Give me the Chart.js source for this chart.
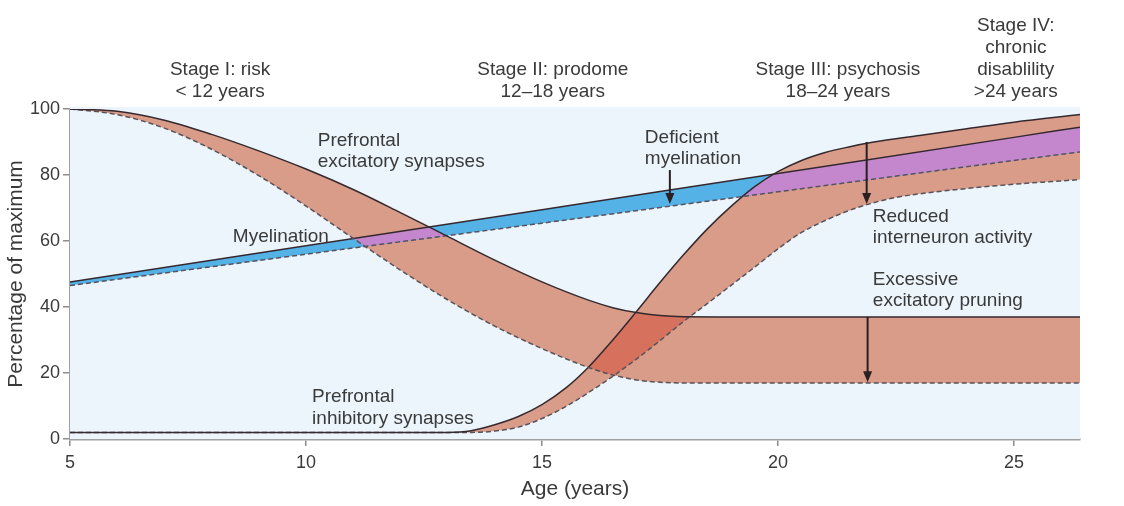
<!DOCTYPE html>
<html>
<head>
<meta charset="utf-8">
<script src="https://cdn.jsdelivr.net/npm/chart.js@4.4.1/dist/chart.umd.min.js"></script>
<style>
    body { margin: 0; background: #ffffff; }
    #wrap { width: 1124px; height: 506px; position: relative; }
</style>
</head>
<body>
<div id="wrap"><canvas id="charts"></canvas></div>
<script>
// Ages (years) and percentage of maximum
const excitAges  = [5, 6, 7, 8, 9, 10, 11, 12, 13, 14, 15, 16, 16.5, 17, 17.5, 18, 19, 22, 26.4]
const excitUpper = [100, 99.3, 96.6, 92.3, 87.3, 81.8, 75.6, 68.6, 61.4, 54.2, 47.6, 42, 39.8, 38.3, 37.4, 37.05, 37, 37, 37]
const excitLower = [100, 98.3, 94.2, 87.8, 79.8, 70.6, 60.8, 51.2, 42.2, 34.2, 27.4, 21.6, 19.4, 17.9, 17.2, 17, 17, 17, 17]

const inhibAgesUpper = [5, 10, 13, 13.5, 14, 14.5, 15, 15.5, 16, 16.5, 17, 17.5, 18, 18.5, 19, 19.5, 20, 20.5, 21, 21.5, 22, 23, 24, 25, 26.4]
const inhibUpper     = [2, 2, 2, 2.5, 4.3, 6.8, 10.4, 15.4, 22, 30, 38.6, 47.4, 55.8, 63.6, 70.4, 76.4, 81, 84.4, 86.8, 88.5, 89.9, 92, 94, 96, 98.3]
const inhibAgesLower = [5, 10, 13.5, 14, 14.5, 15, 15.5, 16, 16.5, 17, 17.5, 18, 18.5, 19, 19.5, 20, 20.5, 21, 21.5, 22, 22.5, 23, 24, 25, 26.4]
const inhibLower     = [2, 2, 2, 2.4, 3.6, 6.2, 9.8, 14.2, 19, 24.2, 29.8, 35.6, 41, 46.5, 52, 57.6, 62.6, 66.2, 69.2, 71.5, 73.2, 74.3, 75.9, 77.2, 78.6]

const myelAges  = [5, 10, 15, 20, 25, 26.4]
const myelUpper = [47.6, 58.55, 69.5, 80.45, 91.4, 94.5]
const myelLower = [46.5, 56, 65.4, 74.9, 84.4, 87]

const xTicks = [5, 10, 15, 20, 25]
const yTicks = [0, 20, 40, 60, 80, 100]

const stageLabels = [
    { age: 8.18,  lines: ['Stage I: risk', '< 12 years'] },
    { age: 15.23, lines: ['Stage II: prodome', '12\u201318 years'] },
    { age: 21.27, lines: ['Stage III: psychosis', '18\u201324 years'] },
    { age: 25.04, lines: ['Stage IV:', 'chronic', 'disablility', '>24 years'] }
]

// left aligned text, age + value of first baseline
const curveLabels = [
    { age: 10.25, value: 88.8, lines: ['Prefrontal', 'excitatory synapses'] },
    { age: 8.45,  value: 59.7, lines: ['Myelination'] },
    { age: 17.18, value: 89.7, lines: ['Deficient', 'myelination'] },
    { age: 22.01, value: 65.8, lines: ['Reduced', 'interneuron activity'] },
    { age: 22.01, value: 46.7, lines: ['Excessive', 'excitatory pruning'] },
    { age: 10.13, value: 11.2, lines: ['Prefrontal', 'inhibitory synapses'] }
]

const arrows = [
    { age: 17.71, from: 81.5, to: 71.2 },
    { age: 21.88, from: 90,   to: 71.2 },
    { age: 21.9,  from: 37,   to: 17.2 }
]

const FONT = '"Liberation Sans", Arial, Helvetica, sans-serif'
const TEXT = '#3a3a3a'

function toXY(ages, vals)
{
    return ages.map((a, i) => ({ x: a, y: vals[i] }))
}

function line(label, ages, vals, dashed)
{
    return {
        label: label,
        data: toXY(ages, vals),
        borderColor: dashed ? '#57525c' : '#35292f',
        borderWidth: 1.5,
        borderDash: dashed ? [5, 3] : [],
        pointRadius: 0,
        fill: false,
        cubicInterpolationMode: 'monotone'
    }
}

function trace(ctx, pts)
{
    ctx.moveTo(pts[0].x, pts[0].y)
    for (let i = 1; i < pts.length; i++) {
        const p = pts[i - 1], q = pts[i]
        if (p.cp2x !== undefined && q.cp1x !== undefined)
            ctx.bezierCurveTo(p.cp2x, p.cp2y, q.cp1x, q.cp1y, q.x, q.y)
        else
            ctx.lineTo(q.x, q.y)
    }
}

// clip to the region between an upper and a lower line
function clipBand(chart, ctx, up, low)
{
    const a = chart.chartArea
    const u = chart.getDatasetMeta(up).data
    const l = chart.getDatasetMeta(low).data
    ctx.beginPath()
    trace(ctx, u)
    ctx.lineTo(u[u.length - 1].x, a.bottom + 10)
    ctx.lineTo(u[0].x, a.bottom + 10)
    ctx.closePath()
    ctx.clip()
    ctx.beginPath()
    trace(ctx, l)
    ctx.lineTo(l[l.length - 1].x, a.top - 10)
    ctx.lineTo(l[0].x, a.top - 10)
    ctx.closePath()
    ctx.clip()
}

const bandPlugin = {
    id: 'bands',
    beforeDatasetsDraw(chart) {
        const ctx = chart.ctx
        const a = chart.chartArea
        for (let i = 0; i < chart.data.datasets.length; i++) {
            const meta = chart.getDatasetMeta(i)
            if (meta.dataset && meta.dataset.updateControlPoints)
                meta.dataset.updateControlPoints(a, 'x')
        }
        ctx.save()
        ctx.fillStyle = '#ebf5fb'
        ctx.fillRect(a.left, a.top - 2, a.right - a.left, a.bottom - a.top + 2)
        ctx.restore()

        const fills = [
            { bands: [[0, 1]], color: '#d99c88' },
            { bands: [[2, 3]], color: '#d99c88' },
            { bands: [[4, 5]], color: '#55b2e6' },
            { bands: [[0, 1], [2, 3]], color: '#d5715d' },
            { bands: [[4, 5], [0, 1]], color: '#c487cd' },
            { bands: [[4, 5], [2, 3]], color: '#c487cd' }
        ]
        fills.forEach(f => {
            ctx.save()
            ctx.beginPath()
            ctx.rect(a.left, a.top, a.right - a.left, a.bottom - a.top)
            ctx.clip()
            f.bands.forEach(b => clipBand(chart, ctx, b[0], b[1]))
            ctx.fillStyle = f.color
            ctx.fillRect(a.left, a.top, a.right - a.left, a.bottom - a.top)
            ctx.restore()
        })
    },
    afterDatasetsDraw(chart) {
        const ctx = chart.ctx
        const xs = chart.scales.x, ys = chart.scales.y
        const top = chart.chartArea.top
        ctx.save()

        // arrows
        ctx.strokeStyle = '#2a1f22'
        ctx.fillStyle = '#2a1f22'
        ctx.lineWidth = 2
        arrows.forEach(ar => {
            const x = xs.getPixelForValue(ar.age)
            const y1 = ys.getPixelForValue(ar.from)
            const y2 = ys.getPixelForValue(ar.to)
            ctx.beginPath()
            ctx.moveTo(x, y1)
            ctx.lineTo(x, y2 - 9)
            ctx.stroke()
            ctx.beginPath()
            ctx.moveTo(x - 4.5, y2 - 11)
            ctx.lineTo(x + 4.5, y2 - 11)
            ctx.lineTo(x, y2)
            ctx.closePath()
            ctx.fill()
        })

        // text
        ctx.fillStyle = TEXT
        ctx.font = '19px ' + FONT
        ctx.textBaseline = 'alphabetic'
        ctx.textAlign = 'center'
        stageLabels.forEach(s => {
            const x = xs.getPixelForValue(s.age)
            const n = s.lines.length
            s.lines.forEach((t, i) => {
                ctx.fillText(t, x, top - 12 - (n - 1 - i) * 22)
            })
        })
        ctx.textAlign = 'left'
        curveLabels.forEach(c => {
            const x = xs.getPixelForValue(c.age)
            const y = ys.getPixelForValue(c.value)
            c.lines.forEach((t, i) => ctx.fillText(t, x, y + i * 21.5))
        })
        ctx.restore()
    }
}

function main()
{
    const ctx = document.getElementById('charts').getContext('2d')

    var chart = new Chart(ctx, {
        type: 'line',
        data: {
            datasets: [
                line('Excitatory max', excitAges, excitUpper, false),
                line('Excitatory reduced', excitAges, excitLower, true),
                line('Inhibitory max', inhibAgesUpper, inhibUpper, false),
                line('Inhibitory reduced', inhibAgesLower, inhibLower, true),
                line('Myelination', myelAges, myelUpper, false),
                line('Myelination deficient', myelAges, myelLower, true)
            ]
        },
        options: {
            responsive: true,
            maintainAspectRatio: false,
            animation: false,
            events: [],
            layout: { padding: { top: 109, right: 44, left: 0, bottom: 0 } },
            plugins: {
                legend: { display: false },
                tooltip: { enabled: false }
            },
            scales: {
                x: {
                    type: 'linear',
                    min: 5,
                    max: 26.4,
                    afterBuildTicks: (scale) => { scale.ticks = xTicks.map(v => ({ value: v })) },
                    afterFit: (scale) => { scale.height = 67 },
                    grid: { drawOnChartArea: false, drawTicks: true, tickLength: 7, color: '#8c8c8c', lineWidth: 1.5 },
                    border: { display: true, color: '#a0a0a0', width: 2.5 },
                    ticks: { font: { size: 18, family: FONT }, color: TEXT, padding: 6, maxRotation: 0 },
                    title: { display: true, text: 'Age (years)', font: { size: 21, family: FONT }, color: TEXT, padding: { top: 2, bottom: 4 } }
                },
                y: {
                    min: 0,
                    max: 100,
                    afterBuildTicks: (scale) => { scale.ticks = yTicks.map(v => ({ value: v })) },
                    afterFit: (scale) => { scale.width = 70 },
                    grid: { drawOnChartArea: false, drawTicks: true, tickLength: 7, color: '#8c8c8c', lineWidth: 1.5 },
                    border: { display: true, color: '#a0a0a0', width: 2.5 },
                    ticks: { font: { size: 18, family: FONT }, color: TEXT, padding: 3 },
                    title: { display: true, text: 'Percentage of maximum', font: { size: 21, family: FONT }, color: TEXT, padding: { top: 4, bottom: 4 } }
                }
            }
        },
        plugins: [bandPlugin]
    })
}

main()
</script>
</body>
</html>
